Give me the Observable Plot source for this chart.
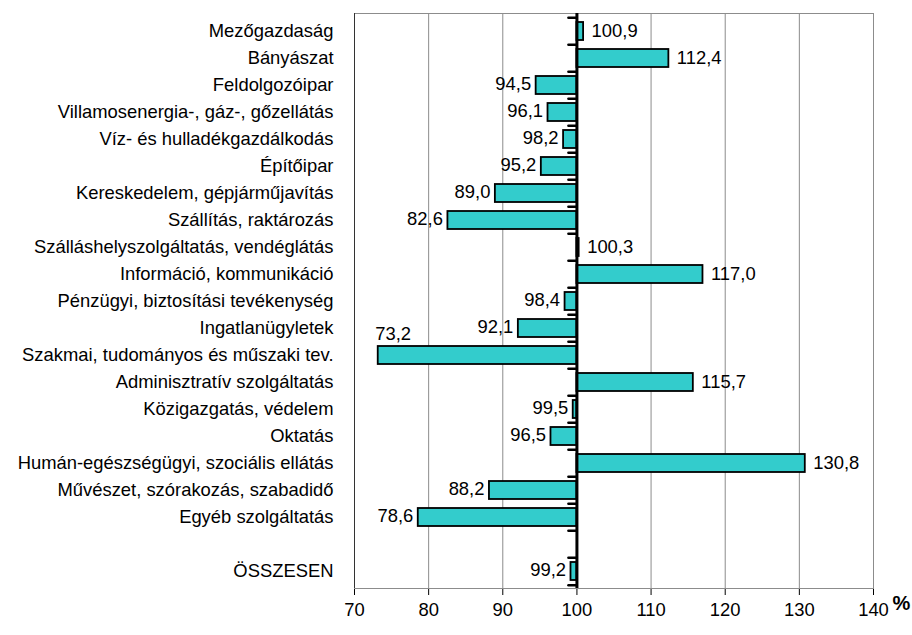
<!DOCTYPE html>
<html>
<head>
<meta charset="utf-8">
<script src="https://cdn.jsdelivr.net/npm/d3@7"></script>
<script src="https://cdn.jsdelivr.net/npm/@observablehq/plot@0.6"></script>
<style>
  html, body { margin: 0; padding: 0; background: #fff; }
</style>
</head>
<body>
<div id="chart"></div>
<script>
const categories = [
  "Mezőgazdaság",
  "Bányászat",
  "Feldolgozóipar",
  "Villamosenergia-, gáz-, gőzellátás",
  "Víz- és hulladékgazdálkodás",
  "Építőipar",
  "Kereskedelem, gépjárműjavítás",
  "Szállítás, raktározás",
  "Szálláshelyszolgáltatás, vendéglátás",
  "Információ, kommunikáció",
  "Pénzügyi, biztosítási tevékenység",
  "Ingatlanügyletek",
  "Szakmai, tudományos és műszaki tev.",
  "Adminisztratív szolgáltatás",
  "Közigazgatás, védelem",
  "Oktatás",
  "Humán-egészségügyi, szociális ellátás",
  "Művészet, szórakozás, szabadidő",
  "Egyéb szolgáltatás",
  "ÖSSZESEN"
];
const values = [100.9, 112.4, 94.5, 96.1, 98.2, 95.2, 89.0, 82.6, 100.3, 117.0, 98.4, 92.1, 73.2, 115.7, 99.5, 96.5, 130.8, 88.2, 78.6, 99.2];
const xTicks = [70, 80, 90, 100, 110, 120, 130, 140];
const gridTicks = [80, 90, 110, 120, 130];
const baseline = 100;
const unitLabel = "%";

// Blank spacer row before the total
const yDomain = [...categories.slice(0, categories.length - 1), "", categories[categories.length - 1]];
const data = categories.map((c, i) => ({cat: c, value: values[i]}));

const W = 912, H = 635;
const mT = 13, mB = 47, mL = 354, mR = 39;
const step = (H - mT - mB) / yDomain.length;
const fmt = d => d3.format(".1f")(d.value).replace(".", ",");

const chart = Plot.plot({
  width: W,
  height: H,
  marginTop: mT,
  marginBottom: mB,
  marginLeft: mL,
  marginRight: mR,
  style: {fontFamily: "'Liberation Sans', Arial, sans-serif", fontSize: "18.4px", background: "#fff", color: "#000"},
  x: {domain: [70, 140], ticks: xTicks, tickSize: 7, tickPadding: 7, line: true, label: null, tickFormat: d => String(d)},
  y: {domain: yDomain, paddingInner: 0.34, paddingOuter: 0.17, tickSize: 0, tickPadding: 21, label: null},
  marks: [
    Plot.ruleX(gridTicks, {stroke: "#8c8c8c", strokeWidth: 1}),
    Plot.frame({stroke: "#8c8c8c", strokeWidth: 1}),
    Plot.ruleX([70], {stroke: "#333", strokeWidth: 1}),
    Plot.barX(data, {y: "cat", x1: baseline, x2: "value", fill: "#33cccc", stroke: "#000", strokeWidth: 1.8}),
    Plot.ruleX([baseline], {stroke: "#000", strokeWidth: 3}),
    Plot.ruleY(yDomain, {y: d => d, x1: 98.92, x2: baseline, dy: -step / 2, stroke: "#000", strokeWidth: 2.5, strokeLinecap: "round"}),
    Plot.ruleY(yDomain.slice(-1), {y: d => d, x1: 98.92, x2: baseline, dy: step / 2, stroke: "#000", strokeWidth: 2.5, strokeLinecap: "round"}),
    Plot.text(data.filter(d => d.value >= baseline), {x: "value", y: "cat", text: fmt, textAnchor: "start", dx: 8, fill: "#000"}),
    Plot.text(data.filter(d => d.value < baseline && d.value >= 76), {x: "value", y: "cat", text: fmt, textAnchor: "end", dx: -5, dy: -1, fill: "#000"}),
    Plot.text(data.filter(d => d.value < 76), {x: "value", y: "cat", text: fmt, textAnchor: "start", dx: -3, dy: -21, fill: "#000"}),
    Plot.text([unitLabel], {x: 140, frameAnchor: "bottom", text: d => d, textAnchor: "start", dx: 19, dy: 21, fontWeight: "bold", fontSize: 20, fill: "#000"})
  ]
});

document.getElementById("chart").appendChild(chart);
</script>
</body>
</html>
